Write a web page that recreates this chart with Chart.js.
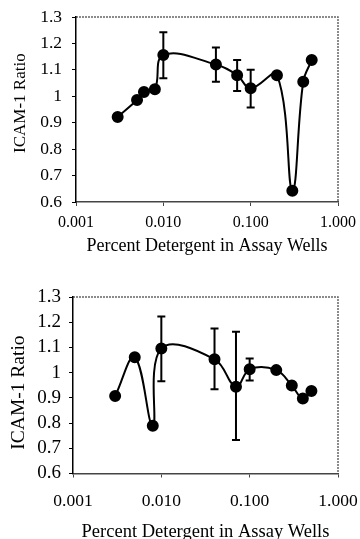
<!DOCTYPE html>
<html>
<head>
<meta charset="utf-8">
<script src="https://cdn.jsdelivr.net/npm/chart.js@4"></script>
<style>
  html, body { margin: 0; padding: 0; background: #fff; overflow: hidden; }
  #wrap { position: relative; width: 360px; height: 539px; }
  canvas { position: absolute; left: 0; }
  #topChart { top: 0; }
  #bottomChart { top: 270px; }
</style>
</head>
<body>
<div id="wrap">
  <canvas id="topChart" width="360" height="270"></canvas>
  <canvas id="bottomChart" width="360" height="275"></canvas>
</div>
<script>
// Data
const xTicks = [0.001, 0.01, 0.1, 1];
const yTicks = [0.6, 0.7, 0.8, 0.9, 1.0, 1.1, 1.2, 1.3];

const topConc = [0.003, 0.005, 0.006, 0.008, 0.010, 0.040, 0.070, 0.100, 0.200, 0.300, 0.400, 0.500];
const topRatio = [0.922, 0.986, 1.016, 1.027, 1.156, 1.120, 1.080, 1.030, 1.080, 0.643, 1.055, 1.137];
const topErrHigh = [null, null, null, null, 1.242, 1.185, 1.137, 1.100, null, null, null, null];
const topErrLow = [null, null, null, null, 1.068, 1.055, 1.020, 0.958, null, null, null, null];

const bottomConc = [0.003, 0.005, 0.008, 0.010, 0.040, 0.070, 0.100, 0.200, 0.300, 0.400, 0.500];
const bottomRatio = [0.907, 1.061, 0.789, 1.096, 1.053, 0.944, 1.013, 1.010, 0.949, 0.897, 0.927];
const bottomErrHigh = [null, null, null, 1.223, 1.175, 1.162, 1.056, null, null, null, null];
const bottomErrLow = [null, null, null, 0.966, 0.934, 0.733, 0.969, null, null, null, null];

const serif = 'Liberation Serif';

// error bars + dotted frame on top/right
const extrasPlugin = {
  id: 'extras',
  beforeDatasetsDraw(chart, args, opts) {
    const ctx = chart.ctx;
    const xs = chart.scales.x, ys = chart.scales.y;
    ctx.save();
    ctx.strokeStyle = '#000';
    ctx.lineWidth = 2;
    opts.conc.forEach((c, i) => {
      const hi = opts.high[i], lo = opts.low[i];
      if (hi == null || lo == null) return;
      const x = xs.getPixelForValue(c);
      const yh = ys.getPixelForValue(hi);
      const yl = ys.getPixelForValue(lo);
      ctx.beginPath();
      ctx.moveTo(x, yh); ctx.lineTo(x, yl);
      ctx.moveTo(x - 4, yh); ctx.lineTo(x + 4, yh);
      ctx.moveTo(x - 4, yl); ctx.lineTo(x + 4, yl);
      ctx.stroke();
    });
    ctx.restore();
  },
  beforeDraw(chart) {
    const ctx = chart.ctx;
    const a = chart.chartArea;
    ctx.save();
    ctx.strokeStyle = '#666';
    ctx.lineWidth = 1.5;
    ctx.setLineDash([2, 1]);
    ctx.beginPath();
    ctx.moveTo(a.left, a.top); ctx.lineTo(a.right, a.top); ctx.lineTo(a.right, a.bottom);
    ctx.stroke();
    ctx.restore();
  }
};

function makeChart(id, conc, ratio, high, low, lay) {
  return new Chart(document.getElementById(id), {
    type: 'line',
    data: {
      datasets: [{
        data: conc.map((c, i) => ({ x: c, y: ratio[i] })),
        borderColor: '#000',
        backgroundColor: '#000',
        borderWidth: 2,
        pointRadius: 5,
        pointBackgroundColor: '#000',
        pointBorderColor: '#000',
        tension: 0.4,
        fill: false
      }]
    },
    options: {
      responsive: false,
      animation: false,
      devicePixelRatio: 1,
      layout: { padding: { top: lay.top, right: 22, left: 0, bottom: 0 } },
      plugins: {
        legend: { display: false },
        tooltip: { enabled: false },
        extras: { conc: conc, high: high, low: low }
      },
      scales: {
        x: {
          type: 'logarithmic',
          min: xTicks[0],
          max: xTicks[xTicks.length - 1],
          afterBuildTicks: s => { s.ticks = xTicks.map(v => ({ value: v })); },
          afterFit: s => { s.height = lay.xHeight; s.paddingLeft = 0; s.paddingRight = 0; },
          grid: { drawOnChartArea: false, tickLength: 4, color: '#444', lineWidth: 1 },
          border: { color: '#444', width: 1.5, dash: [2, 1] },
          ticks: {
            autoSkip: false, maxRotation: 0, padding: lay.xPad,
            color: '#000', font: { family: serif, size: lay.xTickSize },
            callback: v => Number(v).toFixed(3)
          },
          title: {
            display: true, text: 'Percent Detergent in Assay Wells',
            color: '#000', font: { family: serif, size: lay.xTitleSize },
            padding: { top: 0, bottom: lay.xTitlePad }
          }
        },
        y: {
          min: yTicks[0],
          max: yTicks[yTicks.length - 1],
          afterBuildTicks: s => { s.ticks = yTicks.map(v => ({ value: v })); },
          afterFit: s => { s.width = lay.yWidth; s.paddingTop = 0; s.paddingBottom = 0; },
          grid: { drawOnChartArea: false, tickLength: 4, color: '#000', lineWidth: 1 },
          border: { color: '#000', width: 1.5 },
          ticks: {
            autoSkip: false, padding: lay.yPad, color: '#000',
            font: { family: serif, size: lay.yTickSize, lineHeight: 1 },
            callback: v => String(Math.round(v * 10) / 10)
          },
          title: {
            display: true, text: lay.yTitle,
            color: '#000', font: { family: serif, size: lay.yTitleSize },
            padding: { top: lay.yTitlePad, bottom: 0 }
          }
        }
      }
    },
    plugins: [extrasPlugin]
  });
}

makeChart('topChart', topConc, topRatio, topErrHigh, topErrLow, {
  top: 17, xHeight: 68, yWidth: 76, xPad: 7, yPad: 10, xTitlePad: 13, yTitlePad: 10,
  xTickSize: 16, xTitleSize: 18, yTickSize: 17.5, yTitleSize: 17,
  yTitle: '\u00a0\u00a0\u00a0ICAM-1 Ratio'
});
makeChart('bottomChart', bottomConc, bottomRatio, bottomErrHigh, bottomErrLow, {
  top: 27, xHeight: 71.5, yWidth: 73, xPad: 13, yPad: 8, xTitlePad: 2, yTitlePad: 7,
  xTickSize: 17.5, xTitleSize: 18.5, yTickSize: 19, yTitleSize: 19.5,
  yTitle: 'ICAM-1 Ratio\u00a0\u00a0\u00a0'
});
</script>
</body>
</html>
